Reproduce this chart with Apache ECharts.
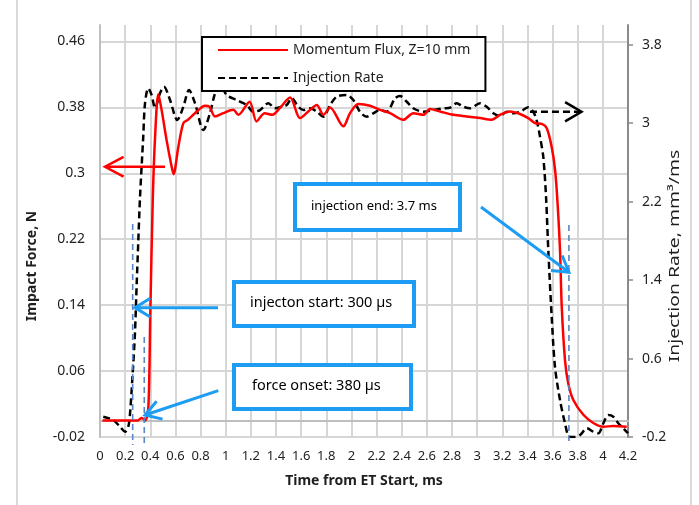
<!DOCTYPE html>
<html>
<head>
<meta charset="utf-8">
<script src="https://cdn.jsdelivr.net/npm/echarts@6/dist/echarts.min.js"></script>
<style>
  html, body { margin: 0; padding: 0; background: #fff; }
  #chart { width: 699px; height: 505px; }
</style>
</head>
<body>
<div id="chart"></div>
<script>
// Momentum flux (impact force, N) measured at Z = 10 mm
const fluxTime = [0.02, 0.10, 0.20, 0.30, 0.33, 0.36, 0.385, 0.40, 0.42, 0.44, 0.464, 0.49, 0.53, 0.57, 0.585,
  0.623, 0.663, 0.70, 0.77, 0.835, 0.87, 0.915, 0.98, 1.06, 1.10, 1.19, 1.245, 1.31, 1.37, 1.43, 1.512, 1.591,
  1.671, 1.724, 1.777, 1.83, 1.936, 1.989, 2.055, 2.148, 2.227, 2.307, 2.413, 2.492, 2.572, 2.625, 2.705, 2.811,
  2.917, 3.023, 3.116, 3.182, 3.261, 3.341, 3.407, 3.46, 3.514, 3.553, 3.593, 3.62, 3.638, 3.659, 3.673, 3.699,
  3.725, 3.765, 3.845, 3.924, 4.004, 4.083, 4.19];
const fluxForce = [0.0, 0.0, 0.0, 0.0, 0.003, 0.0, 0.017, 0.13, 0.27, 0.35, 0.396, 0.377, 0.34, 0.308, 0.299,
  0.332, 0.361, 0.365, 0.375, 0.382, 0.381, 0.369, 0.373, 0.377, 0.371, 0.387, 0.363, 0.373, 0.371, 0.379, 0.392, 0.367,
  0.377, 0.383, 0.371, 0.38, 0.357, 0.373, 0.384, 0.382, 0.377, 0.373, 0.365, 0.373, 0.371, 0.378, 0.375, 0.371,
  0.369, 0.367, 0.365, 0.371, 0.375, 0.372, 0.367, 0.361, 0.36, 0.355, 0.332, 0.304, 0.268, 0.207, 0.138, 0.073,
  0.045, 0.025, 0.007, -0.003, -0.0075, -0.0067, -0.0075];

// Injection rate, mm3/ms
const rateTime = [0.026, 0.106, 0.159, 0.199, 0.225, 0.239, 0.26, 0.278, 0.292, 0.305, 0.318, 0.344, 0.358, 0.384,
  0.411, 0.438, 0.477, 0.509, 0.557, 0.615, 0.663, 0.708, 0.756, 0.822, 0.875, 0.915, 0.955, 1.008, 1.087, 1.167,
  1.219, 1.273, 1.339, 1.392, 1.445, 1.485, 1.525, 1.577, 1.617, 1.671, 1.724, 1.777, 1.83, 1.883, 1.962, 2.015,
  2.068, 2.121, 2.174, 2.227, 2.281, 2.347, 2.386, 2.44, 2.492, 2.572, 2.651, 2.731, 2.784, 2.837, 2.89, 2.943,
  3.023, 3.076, 3.129, 3.182, 3.235, 3.288, 3.341, 3.407, 3.446, 3.473, 3.5, 3.526, 3.548, 3.566, 3.593, 3.619,
  3.659, 3.699, 3.733, 3.779, 3.819, 3.873, 3.924, 3.964, 4.004, 4.044, 4.083, 4.123, 4.163, 4.2];
const rateValue = [0.007, -0.027, -0.095, -0.146, -0.095, 0.042, 0.449, 0.857, 1.367, 1.808, 2.236, 2.861, 3.202, 3.355,
  3.286, 3.151, 3.304, 3.371, 3.235, 3.031, 3.167, 3.337, 3.202, 2.929, 3.1, 3.304, 3.39, 3.286, 3.235, 3.184,
  3.116, 3.133, 3.202, 3.151, 3.167, 3.184, 3.253, 3.167, 3.133, 3.151, 3.116, 3.065, 3.184, 3.269, 3.286, 3.235,
  3.116, 3.065, 3.1, 3.133, 3.116, 3.253, 3.276, 3.218, 3.151, 3.116, 3.133, 3.151, 3.157, 3.202, 3.167, 3.151,
  3.202, 3.167, 3.1, 3.072, 3.116, 3.1, 3.116, 3.161, 3.116, 3.031, 2.861, 2.657, 2.25, 1.706, 1.026, 0.517,
  0.177, -0.06, -0.197, -0.2, -0.18, -0.111, -0.146, -0.162, -0.06, 0.024, 0.007, -0.06, -0.111, -0.162];

// Axis ranges and tick steps
const timeRange = [0, 4.2], timeStep = 0.2;
const forceRange = [-0.02, 0.48], forceStep = 0.08;
const rateRange = [-0.2, 4.0], rateStep = 0.8;

const seriesNames = ['Momentum Flux, Z=10 mm', 'Injection Rate'];

// Annotation anchors (time in ms, force in N / rate in mm3/ms)
const forceArrow = { from: [0.517, 0.308], to: [0.04, 0.308] };
const rateArrow = { from: [3.42, 3.116], to: [3.83, 3.116] };
const guideTimes = [0.26, 0.352, 3.73];
const callouts = [
  { text: 'injection end: 3.7 ms', tip: [3.73, 0.18] },
  { text: 'injecton start: 300 µs', tip: [0.278, 0.137] },
  { text: 'force onset: 380 µs', tip: [0.358, 0.0067] }
];

const FONT = '"Noto Sans", "Open Sans", sans-serif';
const TEXT = '#1f1f1f';
const GRID_LINE = '#d6d6d6';
const BLUE = '#1c9cf2';

const zip = (xs, ys) => xs.map((x, i) => [x, ys[i]]);

const chart = echarts.init(document.getElementById('chart'), null, { renderer: 'canvas' });

chart.setOption({
  animation: false,
  backgroundColor: '#fff',
  textStyle: { fontFamily: FONT },
  grid: { left: 100, right: 71, top: 25, bottom: 68, containLabel: false },
  legend: {
    orient: 'vertical',
    left: 202, top: 37,
    itemWidth: 70, itemHeight: 14, itemGap: 14,
    padding: [6, 15, 6, 15],
    borderColor: '#000', borderWidth: 2,
    backgroundColor: '#fff',
    selectedMode: false,
    itemStyle: { color: 'rgba(0,0,0,0)', borderColor: 'rgba(0,0,0,0)', borderWidth: 0 },
    textStyle: { fontFamily: FONT, fontSize: 14, color: TEXT },
    data: seriesNames,
    z: 10
  },
  xAxis: {
    type: 'value',
    min: timeRange[0], max: timeRange[1], interval: timeStep,
    name: 'Time from ET Start, ms',
    nameLocation: 'middle', nameGap: 37,
    nameTextStyle: { fontFamily: FONT, fontSize: 14, fontWeight: 'bold', color: TEXT },
    axisLine: { show: true, lineStyle: { color: '#bfbfbf', width: 2 } },
    axisTick: { show: false },
    axisLabel: { margin: 13, fontSize: 13, color: TEXT, fontFamily: FONT },
    splitLine: { show: true, lineStyle: { color: GRID_LINE, width: 2 } }
  },
  yAxis: [
    {
      type: 'value', position: 'left',
      min: forceRange[0], max: forceRange[1], interval: forceStep,
      axisLine: { show: true, lineStyle: { color: '#bfbfbf', width: 2 } },
      axisTick: { show: false },
      axisLabel: { margin: 15, fontSize: 14, color: TEXT, fontFamily: FONT, showMaxLabel: false },
      splitLine: { show: true, showMaxLine: false, lineStyle: { color: GRID_LINE, width: 2 } }
    },
    {
      type: 'value', position: 'right',
      min: rateRange[0], max: rateRange[1], interval: rateStep,
      axisLine: { show: true, lineStyle: { color: '#8a8a8a', width: 2 } },
      axisTick: { show: true, inside: false, length: 5, lineStyle: { color: '#8a8a8a', width: 1.5 } },
      axisLabel: { margin: 14, fontSize: 14, color: TEXT, fontFamily: FONT, showMaxLabel: false },
      splitLine: { show: false }
    }
  ],
  series: [
    {
      name: seriesNames[0], type: 'line', yAxisIndex: 0,
      data: zip(fluxTime, fluxForce),
      symbol: 'none', smooth: 0.3,
      lineStyle: { color: '#ff0000', width: 2.5 },
      itemStyle: { color: '#ff0000' },
      z: 3
    },
    {
      name: seriesNames[1], type: 'line', yAxisIndex: 1,
      data: zip(rateTime, rateValue),
      symbol: 'none', smooth: 0.3,
      lineStyle: { color: '#000', width: 2.5, type: [7, 4] },
      itemStyle: { color: '#000' },
      z: 2
    }
  ]
});

// Pixel helpers through the axes
const px = t => chart.convertToPixel({ xAxisIndex: 0 }, t);
const pyF = v => chart.convertToPixel({ yAxisIndex: 0 }, v);
const pyR = v => chart.convertToPixel({ yAxisIndex: 1 }, v);

function head(tip, tail, len, ang) {
  const a = Math.atan2(tail[1] - tip[1], tail[0] - tip[0]);
  return [
    [tip[0] + len * Math.cos(a + ang), tip[1] + len * Math.sin(a + ang)],
    tip,
    [tip[0] + len * Math.cos(a - ang), tip[1] + len * Math.sin(a - ang)]
  ];
}

function arrow(tail, tip, color, width, dash, len, ang) {
  return [
    { type: 'line', z: 50, shape: { x1: tail[0], y1: tail[1], x2: tip[0], y2: tip[1] },
      style: { stroke: color, lineWidth: width, lineDash: dash || null } },
    { type: 'polyline', z: 50, shape: { points: head(tip, tail, len, ang) },
      style: { stroke: color, lineWidth: width, fill: null } }
  ];
}

const g = [];

// Outer chart frame edges
g.push({ type: 'line', z: 0, shape: { x1: 17, y1: 0, x2: 17, y2: 505 }, style: { stroke: '#d9d9d9', lineWidth: 2 } });
g.push({ type: 'line', z: 0, shape: { x1: 691, y1: 0, x2: 691, y2: 505 }, style: { stroke: '#d9d9d9', lineWidth: 2 } });

// Axis titles
g.push({ type: 'text', z: 20, x: 32, y: 266, rotation: Math.PI / 2,
  style: { text: 'Impact Force, N', font: 'bold 14px ' + FONT, fill: TEXT, align: 'center', verticalAlign: 'middle' } });
g.push({ type: 'text', z: 20, x: 675, y: 256, rotation: Math.PI / 2, scaleX: 1.38,
  style: { text: 'Injection Rate, mm³/ms', font: '14px ' + FONT, fill: TEXT, align: 'center', verticalAlign: 'middle' } });

// Direction arrows pointing each curve to its axis
const fa1 = [px(forceArrow.from[0]), pyF(forceArrow.from[1])];
const fa2 = [px(forceArrow.to[0]), pyF(forceArrow.to[1])];
g.push(...arrow(fa1, fa2, '#ff0000', 2.5, null, 21, 0.49));
const ra1 = [px(rateArrow.from[0]), pyR(rateArrow.from[1])];
const ra2 = [px(rateArrow.to[0]), pyR(rateArrow.to[1])];
g.push({ type: 'line', z: 50, shape: { x1: ra1[0], y1: ra1[1], x2: ra2[0], y2: ra2[1] },
  style: { stroke: '#000', lineWidth: 2.5, lineDash: [7, 4] } });
g.push({ type: 'polyline', z: 50, shape: { points: head(ra2, ra1, 19, 0.53) },
  style: { stroke: '#000', lineWidth: 2.5, fill: null } });

// Timing guide lines
const guideTops = [224, 337, 225];
guideTimes.forEach((t, i) => {
  const x = px(t);
  g.push({ type: 'line', z: 45, shape: { x1: x, y1: guideTops[i], x2: x, y2: 445 },
    style: { stroke: '#5b86c5', lineWidth: 1.6, lineDash: [6, 4] } });
});

// Callout boxes with arrows
const boxes = [
  { x: 295, y: 184, w: 165, h: 46, tx: 311, size: 13, tail: [481, 207] },
  { x: 234, y: 282, w: 180, h: 44, tx: 250, size: 14.5, tail: [218, 307.7] },
  { x: 234, y: 365, w: 177, h: 44, tx: 252, size: 14.5, tail: [218.3, 390.7] }
];
boxes.forEach((b, i) => {
  g.push({ type: 'rect', z: 40, shape: { x: b.x, y: b.y, width: b.w, height: b.h },
    style: { fill: '#fff', stroke: BLUE, lineWidth: 4 } });
  g.push({ type: 'text', z: 41, x: b.tx, y: b.y + b.h / 2 - 1,
    style: { text: callouts[i].text, font: b.size + 'px ' + FONT, fill: '#000', align: 'left', verticalAlign: 'middle' } });
  const tip = [px(callouts[i].tip[0]), pyF(callouts[i].tip[1])];
  g.push(...arrow(b.tail, tip, BLUE, 3, null, 18, 0.55));
});

chart.setOption({ graphic: { elements: g } });
</script>
</body>
</html>
